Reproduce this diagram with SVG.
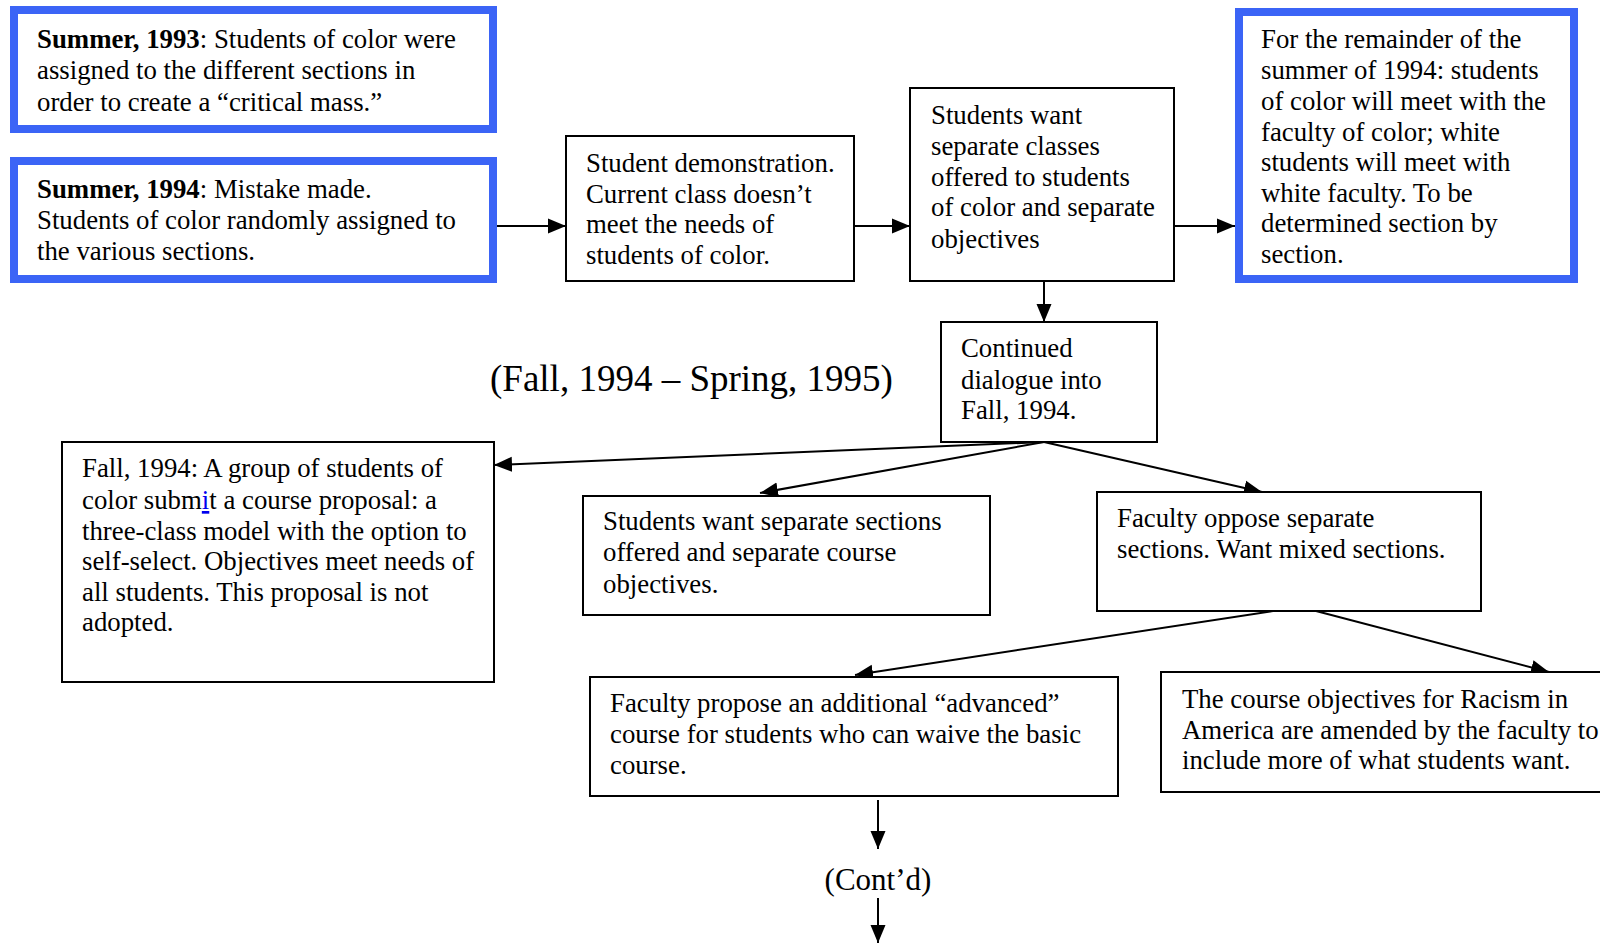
<svg xmlns="http://www.w3.org/2000/svg" width="1600" height="943" viewBox="0 0 1600 943">
<style>
  text { font-family: "Liberation Serif", "Times New Roman", serif; font-size: 26.8px; fill: #000; }
  .box { fill: #fff; stroke: #000; stroke-width: 2; }
  .blue { fill: #fff; stroke: #3B64F6; stroke-width: 8; }
  .conn { stroke: #000; stroke-width: 2; fill: none; }
  .b { font-weight: bold; }
  .lnk { fill: #0000EE; text-decoration: underline; }
</style>
<defs>
  <marker id="arr" markerUnits="userSpaceOnUse" markerWidth="20" markerHeight="16" refX="18" refY="8" orient="auto">
    <path d="M0,0.5 L18,8 L0,15.5 Z" fill="#000"/>
  </marker>
</defs>
<rect width="1600" height="943" fill="#fff"/>

<g id="connectors">
  <line class="conn" x1="497" y1="226" x2="566" y2="226" marker-end="url(#arr)"/>
  <line class="conn" x1="854" y1="226" x2="910" y2="226" marker-end="url(#arr)"/>
  <line class="conn" x1="1174" y1="226" x2="1235" y2="226" marker-end="url(#arr)"/>
  <line class="conn" x1="1044" y1="281" x2="1044" y2="322" marker-end="url(#arr)"/>
  <line class="conn" x1="1044" y1="442" x2="494" y2="465" marker-end="url(#arr)"/>
  <line class="conn" x1="1044" y1="442" x2="760" y2="493" marker-end="url(#arr)"/>
  <line class="conn" x1="1044" y1="442" x2="1262" y2="492" marker-end="url(#arr)"/>
  <line class="conn" x1="1273" y1="611" x2="855" y2="675" marker-end="url(#arr)"/>
  <line class="conn" x1="1316" y1="611" x2="1549" y2="672" marker-end="url(#arr)"/>
  <line class="conn" x1="878" y1="800" x2="878" y2="849" marker-end="url(#arr)"/>
  <line class="conn" x1="878" y1="898" x2="878" y2="943" marker-end="url(#arr)"/>
</g>

<g id="summer1993">
  <rect class="blue" x="14" y="10" width="479" height="119"/>
  <text x="37" y="48"><tspan class="b">Summer, 1993</tspan>: Students of color were</text>
  <text x="37" y="79">assigned to the different sections in</text>
  <text x="37" y="111">order to create a “critical mass.”</text>
</g>

<g id="summer1994">
  <rect class="blue" x="14" y="161" width="479" height="118"/>
  <text x="37" y="198"><tspan class="b">Summer, 1994</tspan>: Mistake made.</text>
  <text x="37" y="229">Students of color randomly assigned to</text>
  <text x="37" y="260">the various sections.</text>
</g>

<g id="demonstration">
  <rect class="box" x="566" y="136" width="288" height="145"/>
  <text x="586" y="172">Student demonstration.</text>
  <text x="586" y="203">Current class doesn’t</text>
  <text x="586" y="233">meet the needs of</text>
  <text x="586" y="264">students of color.</text>
</g>

<g id="separate-classes">
  <rect class="box" x="910" y="88" width="264" height="193"/>
  <text x="931" y="124">Students want</text>
  <text x="931" y="155">separate classes</text>
  <text x="931" y="186">offered to students</text>
  <text x="931" y="216">of color and separate</text>
  <text x="931" y="248">objectives</text>
</g>

<g id="remainder1994">
  <rect class="blue" x="1239" y="12" width="335" height="267"/>
  <text x="1261" y="48">For the remainder of the</text>
  <text x="1261" y="79">summer of 1994: students</text>
  <text x="1261" y="110">of color will meet with the</text>
  <text x="1261" y="141">faculty of color; white</text>
  <text x="1261" y="171">students will meet with</text>
  <text x="1261" y="202">white faculty. To be</text>
  <text x="1261" y="232">determined section by</text>
  <text x="1261" y="263">section.</text>
</g>

<g id="period-label">
  <text x="490" y="391" style="font-size:37px">(Fall, 1994 – Spring, 1995)</text>
</g>

<g id="continued-dialogue">
  <rect class="box" x="941" y="322" width="216" height="120"/>
  <text x="961" y="357">Continued</text>
  <text x="961" y="389">dialogue into</text>
  <text x="961" y="419">Fall, 1994.</text>
</g>

<g id="proposal">
  <rect class="box" x="62" y="442" width="432" height="240"/>
  <text x="82" y="477">Fall, 1994: A group of students of</text>
  <text x="82" y="509">color subm<tspan class="lnk">i</tspan>t a course proposal: a</text>
  <text x="82" y="540">three-class model with the option to</text>
  <text x="82" y="570">self-select. Objectives meet needs of</text>
  <text x="82" y="601">all students. This proposal is not</text>
  <text x="82" y="631">adopted.</text>
</g>

<g id="separate-sections">
  <rect class="box" x="583" y="496" width="407" height="119"/>
  <text x="603" y="530">Students want separate sections</text>
  <text x="603" y="561">offered and separate course</text>
  <text x="603" y="593">objectives.</text>
</g>

<g id="faculty-oppose">
  <rect class="box" x="1097" y="492" width="384" height="119"/>
  <text x="1117" y="527">Faculty oppose separate</text>
  <text x="1117" y="558">sections. Want mixed sections.</text>
</g>

<g id="advanced-course">
  <rect class="box" x="590" y="677" width="528" height="119"/>
  <text x="610" y="712">Faculty propose an additional “advanced”</text>
  <text x="610" y="743">course for students who can waive the basic</text>
  <text x="610" y="774">course.</text>
</g>

<g id="objectives-amended">
  <rect class="box" x="1161" y="672" width="445" height="120"/>
  <text x="1182" y="708">The course objectives for Racism in</text>
  <text x="1182" y="739">America are amended by the faculty to</text>
  <text x="1182" y="769">include more of what students want.</text>
</g>

<g id="contd">
  <text x="878" y="890" text-anchor="middle" style="font-size:31px">(Cont’d)</text>
</g>
</svg>
